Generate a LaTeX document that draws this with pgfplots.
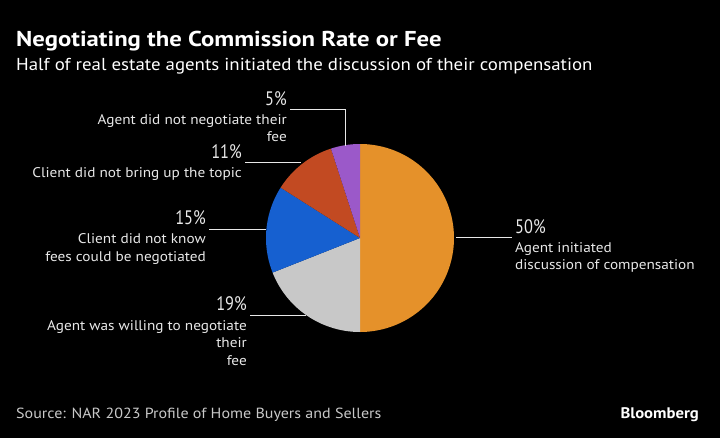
\documentclass[border=0pt]{standalone}
\usepackage{pgfplots}
\pgfplotsset{compat=1.18}
\usepackage{fontspec}
\setmainfont[FakeStretch=1.09]{PT Sans}
\newfontfamily\titlefont[FakeStretch=1.15]{PT Sans}
\newfontfamily\pctfont[FakeStretch=0.84]{PT Sans}
\definecolor{cOrange}{HTML}{E5912A}
\definecolor{cGray}{HTML}{C8C8C8}
\definecolor{cBlue}{HTML}{1660D0}
\definecolor{cRed}{HTML}{C24A22}
\definecolor{cPurple}{HTML}{9B59C9}
\definecolor{txt}{HTML}{E8E8E8}
% shares (percent), clockwise from 12 o'clock
\def\vA{50}\def\vB{19}\def\vC{15}\def\vD{11}\def\vE{5}
\pgfmathsetmacro{\aA}{90}
\pgfmathsetmacro{\aB}{\aA-3.6*\vA}
\pgfmathsetmacro{\aC}{\aB-3.6*\vB}
\pgfmathsetmacro{\aD}{\aC-3.6*\vC}
\pgfmathsetmacro{\aE}{\aD-3.6*\vD}
\pgfmathsetmacro{\aF}{\aE-3.6*\vE}
\newcommand{\slice}[3]{%
  \addplot[fill=#3, draw=none, domain=#1:#2, samples=90]
    ({360+94*cos(x)},{238-94*sin(x)}) -- (axis cs:360,238) -- cycle;}
\newcommand{\lab}[3]{\node[anchor=base east, text=txt, font=\fontsize{14bp}{14bp}\selectfont, inner sep=0pt] at (axis cs:#1,#2) {#3};}
\newcommand{\pct}[3]{\node[anchor=base east, text=txt, font=\pctfont\fontsize{19.5bp}{19.5bp}\selectfont, inner sep=0pt] at (axis cs:#1,#2) {#3};}
\begin{document}
\begin{tikzpicture}
\fill[black] (0,0) rectangle (720bp,438bp);
\path[use as bounding box] (0,0) rectangle (720bp,438bp);
\begin{axis}[
  at={(0,0)}, anchor=south west,
  width=720bp, height=438bp, scale only axis,
  xmin=0, xmax=720, ymin=0, ymax=438, y dir=reverse,
  hide axis, clip=false]
\slice{\aA}{\aB}{cOrange}
\slice{\aB}{\aC}{cGray}
\slice{\aC}{\aD}{cBlue}
\slice{\aD}{\aE}{cRed}
\slice{\aE}{\aF}{cPurple}
% leader lines
\addplot[txt, line width=0.9bp] coordinates {(456,237) (512,237)};
\addplot[txt, line width=0.9bp] coordinates {(290,109) (345,109) (345,146)};
\addplot[txt, line width=0.9bp] coordinates {(245,162) (301,162)};
\addplot[txt, line width=0.9bp] coordinates {(209,229) (266,229)};
\addplot[txt, line width=0.9bp] coordinates {(250,315) (306,315)};
% titles
\node[anchor=base west, text=white, font=\titlefont\fontsize{21.5bp}{21.5bp}\selectfont\bfseries, inner sep=0pt] at (axis cs:16,47) {Negotiating the Commission Rate or Fee};
\node[anchor=base west, text=white, font=\fontsize{17.3bp}{17.3bp}\selectfont, inner sep=0pt] at (axis cs:16,70.5) {Half of real estate agents initiated the discussion of their compensation};
% labels
\node[anchor=base west, text=txt, font=\pctfont\fontsize{19.5bp}{19.5bp}\selectfont, inner sep=0pt] at (axis cs:515,233) {50\%};
\node[anchor=base west, text=txt, font=\fontsize{14bp}{14bp}\selectfont, inner sep=0pt] at (axis cs:515,252.5) {Agent initiated};
\node[anchor=base west, text=txt, font=\fontsize{14bp}{14bp}\selectfont, inner sep=0pt] at (axis cs:515,269) {discussion of compensation};
\pct{287}{105}{5\%}
\lab{287}{124}{Agent did not negotiate their}
\lab{287}{141.5}{fee}
\pct{242}{158.5}{11\%}
\lab{242}{177}{Client did not bring up the topic}
\pct{206}{224}{15\%}
\lab{206}{243}{Client did not know}
\lab{206}{261}{fees could be negotiated}
\pct{247}{310.5}{19\%}
\lab{247}{330}{Agent was willing to negotiate}
\lab{247}{347}{their}
\lab{247}{365}{fee}
% footer
\node[anchor=base west, text=cGray, font=\fontsize{14.7bp}{14.7bp}\selectfont, inner sep=0pt] at (axis cs:16,418) {Source: NAR 2023 Profile of Home Buyers and Sellers};
\node[anchor=base east, text=white, font=\fontsize{15.3bp}{15.3bp}\selectfont\bfseries, inner sep=0pt] at (axis cs:699,418) {Bloomberg};
\end{axis}
\end{tikzpicture}
\end{document}
